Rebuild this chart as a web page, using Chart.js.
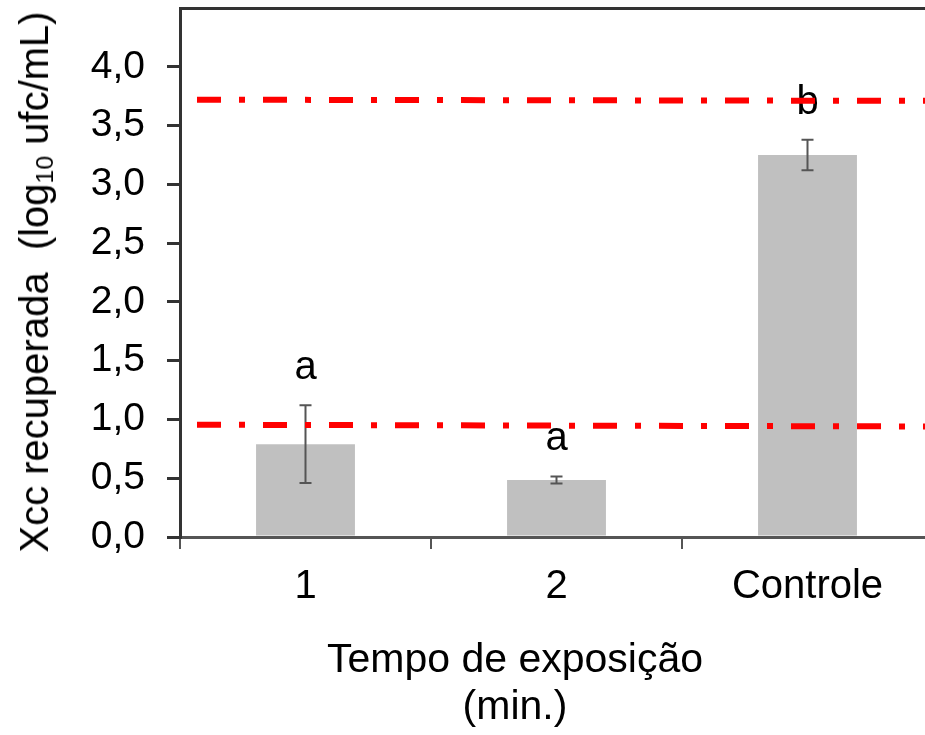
<!DOCTYPE html>
<html>
<head>
<meta charset="utf-8">
<script src="https://cdn.jsdelivr.net/npm/chart.js@4.4.1/dist/chart.umd.min.js"></script>
<style>
  html, body { margin: 0; padding: 0; background: #fff; overflow: hidden; }
  body { width: 925px; height: 735px; position: relative; font-family: 'Liberation Sans', Arial, sans-serif; color: #000; }
  #wrap { position: absolute; left: 0; top: 0; width: 960px; height: 735px; }
  .ytitle {
    position: absolute; left: 34px; top: 282px;
    font-size: 40px; line-height: 40px; white-space: nowrap;
    transform: translate(-50%, -50%) rotate(-90deg);
  }
  .ytitle sub { font-size: 0.62em; vertical-align: -0.22em; line-height: 0; }
  .xtitle {
    position: absolute; left: 215px; top: 635px; width: 600px;
    text-align: center; font-size: 41px; line-height: 47px;
  }
</style>
</head>
<body>
<div id="wrap"><canvas id="chart" width="960" height="735"></canvas></div>
<div class="ytitle">Xcc recuperada&nbsp; (log<sub>10</sub> ufc/mL)</div>
<div class="xtitle">Tempo de exposição<br>(min.)</div>
<script>
const categories = ['1', '2', 'Controle']
const recovered = [0.79, 0.485, 3.25]
const errors = [0.33, 0.03, 0.13]
const letters = ['a', 'a', 'b']
// dashed reference lines: value at left end, value at right end
const limitStart = [3.72, 0.955]
const limitEnd = [3.71, 0.94]

const fmt = (v) => v.toFixed(1).replace('.', ',')

const noPad = (s) => {
  s.paddingTop = 0
  s.paddingBottom = 0
  s.paddingLeft = 0
  s.paddingRight = 0
}

const extras = {
  id: 'extras',
  afterDatasetsDraw(chart) {
    const { ctx, chartArea } = chart
    const y = chart.scales.y
    const meta = chart.getDatasetMeta(0)

    // error bars
    ctx.save()
    ctx.strokeStyle = '#555'
    ctx.lineWidth = 2
    meta.data.forEach((bar, i) => {
      const top = y.getPixelForValue(recovered[i] + errors[i])
      const bot = y.getPixelForValue(recovered[i] - errors[i])
      ctx.beginPath()
      ctx.moveTo(bar.x, top)
      ctx.lineTo(bar.x, bot)
      ctx.moveTo(bar.x - 6, top)
      ctx.lineTo(bar.x + 6, top)
      ctx.moveTo(bar.x - 6, bot)
      ctx.lineTo(bar.x + 6, bot)
      ctx.stroke()
    })

    // significance letters
    ctx.fillStyle = '#000'
    ctx.font = '40px "Liberation Sans", Arial, sans-serif'
    ctx.textAlign = 'center'
    ctx.textBaseline = 'alphabetic'
    meta.data.forEach((bar, i) => {
      const top = y.getPixelForValue(recovered[i] + errors[i])
      ctx.fillText(letters[i], bar.x, top - 26)
    })

    // red dash-dot limits
    ctx.strokeStyle = '#ff0000'
    ctx.lineWidth = 6
    ctx.setLineDash([24, 18, 6, 18])
    limitStart.forEach((v, i) => {
      ctx.beginPath()
      ctx.moveTo(chartArea.left + 17, y.getPixelForValue(v))
      ctx.lineTo(chartArea.right, y.getPixelForValue(limitEnd[i]))
      ctx.stroke()
    })
    ctx.restore()
  },
}

new Chart(document.getElementById('chart'), {
  type: 'bar',
  data: {
    labels: categories,
    datasets: [
      {
        data: recovered,
        backgroundColor: '#c0c0c0',
        borderWidth: 0,
        barPercentage: 0.394,
        categoryPercentage: 1,
      },
    ],
  },
  options: {
    responsive: false,
    animation: false,
    layout: { padding: { top: 8, right: 27, left: 0, bottom: 0 } },
    plugins: { legend: { display: false }, tooltip: { enabled: false } },
    scales: {
      x: {
        offset: true,
        grid: {
          display: true,
          offset: true,
          drawOnChartArea: false,
          drawTicks: true,
          tickLength: 12,
          color: '#555',
          lineWidth: 2,
        },
        border: { color: '#555', width: 3 },
        ticks: {
          color: '#000',
          padding: 14,
          font: { family: '"Liberation Sans", Arial, sans-serif', size: 40 },
        },
        afterFit: (s) => {
          s.height = 735 - 537
          noPad(s)
        },
      },
      xTop: {
        type: 'category',
        position: 'top',
        labels: categories,
        grid: { display: false, drawTicks: false },
        ticks: { display: false },
        border: { color: '#333', width: 3 },
        afterFit: (s) => {
          s.height = 0
          noPad(s)
        },
      },
      y: {
        min: 0,
        max: 4.5,
        ticks: {
          stepSize: 0.5,
          color: '#000',
          padding: 22,
          font: { family: '"Liberation Sans", Arial, sans-serif', size: 39 },
          callback: (v) => fmt(v),
        },
        afterBuildTicks: (s) => { s.ticks = s.ticks.filter((t) => t.value <= 4.0) },
        grid: {
          display: true,
          drawOnChartArea: false,
          drawTicks: true,
          tickLength: 13,
          color: '#333',
          lineWidth: 3,
        },
        border: { color: '#333', width: 3 },
        afterFit: (s) => {
          s.width = 180
          noPad(s)
        },
      },
    },
  },
  plugins: [extras],
})
</script>
</body>
</html>
